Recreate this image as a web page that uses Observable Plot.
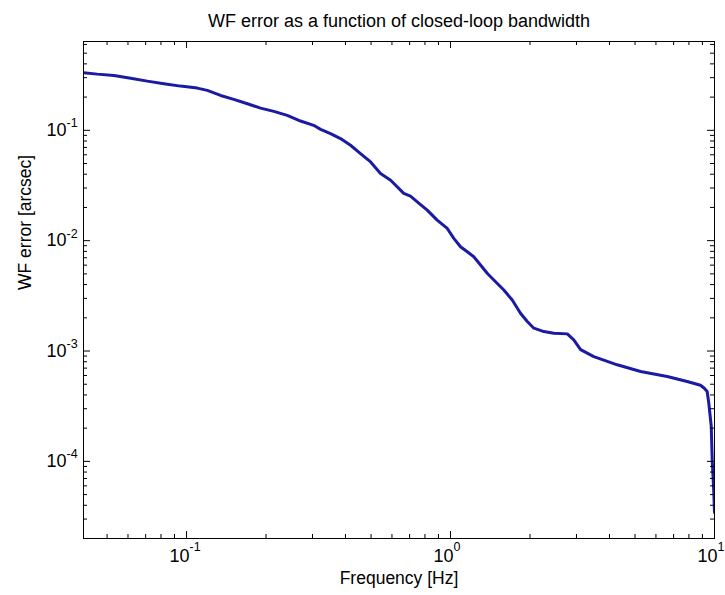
<!DOCTYPE html>
<html>
<head>
<meta charset="utf-8">
<script src="https://cdn.jsdelivr.net/npm/d3@7"></script>
<script src="https://cdn.jsdelivr.net/npm/@observablehq/plot@0.6"></script>
<style>
  html, body { margin: 0; padding: 0; background: #fff; }
</style>
</head>
<body>
<div id="chart"></div>
<script>
// ---- data ----
const freq = [0.0407, 0.0459, 0.0531, 0.0614, 0.0710, 0.0820, 0.0949, 0.1098, 0.1198, 0.1346,
  0.151, 0.170, 0.1907, 0.2142, 0.2406, 0.2703, 0.303, 0.322, 0.351, 0.383,
  0.418, 0.456, 0.498, 0.543, 0.593, 0.665, 0.705, 0.748, 0.816, 0.890,
  0.972, 1.029, 1.091, 1.157, 1.225, 1.299, 1.377, 1.459, 1.592, 1.713,
  1.841, 1.953, 2.069, 2.257, 2.462, 2.77, 2.93, 3.11, 3.49, 4.28,
  5.25, 6.62, 7.88, 8.85, 9.15, 9.38, 9.51, 9.72, 9.80, 9.94, 10.0];
const wfError = [0.333, 0.323, 0.314, 0.297, 0.279, 0.2644, 0.2515, 0.2413, 0.230, 0.207,
  0.1907, 0.174, 0.159, 0.1485, 0.1366, 0.1214, 0.111, 0.102, 0.0934, 0.0841,
  0.0732, 0.0616, 0.0517, 0.0406, 0.0353, 0.0268, 0.0253, 0.0225, 0.0189, 0.01536,
  0.0129, 0.0105, 0.00881, 0.00794, 0.00715, 0.00602, 0.00506, 0.0044, 0.00357, 0.0029,
  0.0022, 0.00185, 0.00161, 0.0015, 0.00145, 0.00143, 0.00126, 0.00103, 0.00089, 0.00075,
  0.000653, 0.000588, 0.00053, 0.00049, 0.00046, 0.00043, 0.00034, 0.000208, 0.000104, 0.0000522, 0.0000344];

const xMajor = [0.1, 1, 10];
const xExponents = ["-1", "0", "1"];
const yMajor = [1e-4, 1e-3, 1e-2, 1e-1];
const yExponents = ["-4", "-3", "-2", "-1"];
const xDomain = [0.0407, 10];
const yDomain = [2e-5, 0.638];

const title = "WF error as a function of closed-loop bandwidth";
const xLabel = "Frequency [Hz]";
const yLabel = "WF error [arcsec]";

// minor ticks (2..9 × each decade) inside the domain
function minorTicks(domain) {
  const out = [];
  for (let e = -6; e <= 2; e++) {
    for (let m = 2; m <= 9; m++) {
      const v = m * Math.pow(10, e);
      if (v > domain[0] * 1.001 && v < domain[1] * 0.999) out.push(v);
    }
  }
  return out;
}
const xMinor = minorTicks(xDomain);
const yMinor = minorTicks(yDomain);

const data = freq.map((f, i) => ({f, v: wfError[i]}));

// ---- layout ----
const W = 725, H = 595;
const mL = 83, mR = 11, mT = 41, mB = 57;
const fw = W - mL - mR, fh = H - mT - mB;
const major = 7, minor = 4;

const chart = Plot.plot({
  width: W,
  height: H,
  marginLeft: mL,
  marginRight: mR,
  marginTop: mT,
  marginBottom: mB,
  style: {fontFamily: "'Liberation Sans', Arial, Helvetica, sans-serif", background: "#fff", color: "#000"},
  x: {type: "log", domain: xDomain, axis: null},
  y: {type: "log", domain: yDomain, axis: null},
  marks: [
    // curve
    Plot.line(data, {x: "f", y: "v", stroke: "#1a1aa2", strokeWidth: 3, clip: true}),
    // frame
    Plot.frame({stroke: "#000", strokeWidth: 1}),
    // inward ticks: bottom & top
    Plot.tickX(xMajor, {x: d => d, insetTop: fh - major, stroke: "#000"}),
    Plot.tickX(xMajor, {x: d => d, insetBottom: fh - major, stroke: "#000"}),
    Plot.tickX(xMinor, {x: d => d, insetTop: fh - minor, stroke: "#000"}),
    Plot.tickX(xMinor, {x: d => d, insetBottom: fh - minor, stroke: "#000"}),
    // inward ticks: left & right
    Plot.tickY(yMajor, {y: d => d, insetRight: fw - major, stroke: "#000"}),
    Plot.tickY(yMajor, {y: d => d, insetLeft: fw - major, stroke: "#000"}),
    Plot.tickY(yMinor, {y: d => d, insetRight: fw - minor, stroke: "#000"}),
    Plot.tickY(yMinor, {y: d => d, insetLeft: fw - minor, stroke: "#000"}),
    // x tick labels 10^n
    Plot.text(xMajor, {x: d => d, frameAnchor: "bottom", text: () => "10", textAnchor: "end",
      dx: 3, dy: 23, fontSize: 18, fill: "#000"}),
    Plot.text(xMajor, {x: d => d, frameAnchor: "bottom", text: (d, i) => xExponents[i], textAnchor: "start",
      dx: 3, dy: 12, fontSize: 12.5, fill: "#000"}),
    // y tick labels 10^n
    Plot.text(yMajor, {y: d => d, frameAnchor: "left", text: () => "10", textAnchor: "end",
      dx: -17, dy: 0, fontSize: 18, fill: "#000"}),
    Plot.text(yMajor, {y: d => d, frameAnchor: "left", text: (d, i) => yExponents[i], textAnchor: "start",
      dx: -17, dy: -7, fontSize: 12.5, fill: "#000"}),
    // title & axis labels
    Plot.text([title], {frameAnchor: "top", text: d => d, lineAnchor: "bottom", dy: -15, fontSize: 18, fill: "#000"}),
    Plot.text([xLabel], {frameAnchor: "bottom", text: d => d, lineAnchor: "bottom", dy: 45, fontSize: 17.5, fill: "#000"}),
    Plot.text([yLabel], {frameAnchor: "left", text: d => d, lineAnchor: "bottom", rotate: -90, dx: -53, fontSize: 17.5, fill: "#000"})
  ]
});
document.getElementById("chart").appendChild(chart);
</script>
</body>
</html>
